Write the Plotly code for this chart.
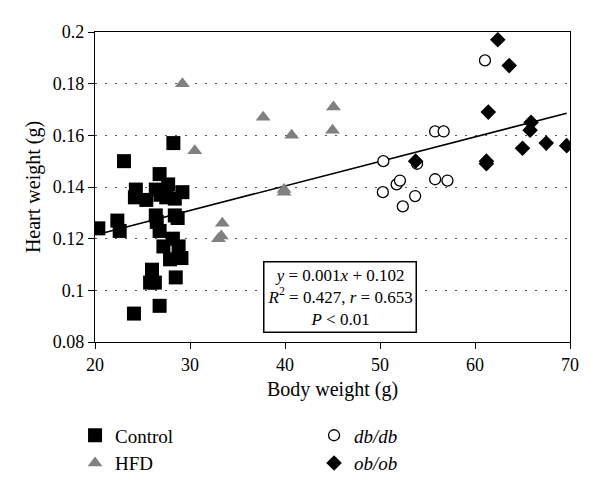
import numpy as np
import plotly.graph_objects as go

# ---- data ----
control_x = [28.25, 23.05, 26.8, 27.7, 24.3, 29.2, 26.4, 24.2, 25.4, 27.5, 28.4, 26.9,
             20.35, 22.35, 22.6, 26.4, 28.4, 26.5, 26.8, 28.7, 27.2, 28.2, 28.8, 27.9,
             29.1, 26.0, 25.8, 26.3, 28.5, 26.8, 24.1]
control_y = [0.157, 0.150, 0.145, 0.141, 0.139, 0.138, 0.139, 0.136, 0.135, 0.136, 0.1355, 0.137,
             0.124, 0.127, 0.123, 0.129, 0.129, 0.1265, 0.123, 0.128, 0.117, 0.120, 0.117, 0.112,
             0.1125, 0.108, 0.103, 0.103, 0.105, 0.094, 0.091]

hfd_x = [29.2, 30.5, 33.0, 33.3, 33.4, 37.7, 39.9, 39.9, 40.7, 45.1, 45.0]
hfd_y = [0.180, 0.154, 0.120, 0.121, 0.126, 0.167, 0.139, 0.138, 0.160, 0.171, 0.162]

dbdb_x = [61.05, 55.8, 56.7, 50.35, 53.9, 55.8, 57.1, 51.75, 52.1, 50.3, 53.7, 52.4]
dbdb_y = [0.189, 0.1615, 0.1615, 0.150, 0.149, 0.143, 0.1425, 0.141, 0.1425, 0.138, 0.1365, 0.1325]

obob_x = [62.4, 63.6, 61.4, 65.9, 65.8, 65.0, 67.5, 69.65, 61.2, 61.2, 53.75]
obob_y = [0.197, 0.187, 0.169, 0.165, 0.162, 0.155, 0.157, 0.156, 0.150, 0.149, 0.150]

x_ticks = [20, 30, 40, 50, 60, 70]
y_ticks = [0.08, 0.1, 0.12, 0.14, 0.16, 0.18, 0.2]
y_tick_text = ["0.08", "0.1", "0.12", "0.14", "0.16", "0.18", "0.2"]

# regression over all points
all_x = np.array(control_x + hfd_x + dbdb_x + obob_x)
all_y = np.array(control_y + hfd_y + dbdb_y + obob_y)
slope, intercept = np.polyfit(all_x, all_y, 1)
fit_x = np.array([all_x.min(), all_x.max()])
fit_y = slope * fit_x + intercept

FONT = "Liberation Serif"

fig = go.Figure()
fig.add_trace(go.Scatter(x=fit_x, y=fit_y, mode="lines", line=dict(color="black", width=1.6),
                         showlegend=False, hoverinfo="skip"))
fig.add_trace(go.Scatter(x=control_x, y=control_y, mode="markers", name="Control",
                         marker=dict(symbol="square", size=14, color="black")))
fig.add_trace(go.Scatter(x=dbdb_x, y=dbdb_y, mode="markers", name="<i>db/db</i>",
                         marker=dict(symbol="circle", size=11, color="white",
                                     line=dict(color="black", width=1.3))))
fig.add_trace(go.Scatter(x=hfd_x, y=hfd_y, mode="markers", name="HFD",
                         marker=dict(symbol="triangle-up", size=13, color="#808080")))
fig.add_trace(go.Scatter(x=obob_x, y=obob_y, mode="markers", name="<i>ob/ob</i>",
                         marker=dict(symbol="diamond", size=12, color="black")))

fig.add_annotation(
    x=45.8, y=0.0973, xref="x", yref="y",
    text="<i>y</i> = 0.001<i>x</i> + 0.102<br><i>R</i><sup>2</sup> = 0.427, <i>r</i> = 0.653<br><i>P</i> &lt; 0.01",
    showarrow=False, font=dict(family=FONT, size=17, color="black"),
    bordercolor="black", borderwidth=1.5, bgcolor="white", borderpad=3, align="center")

fig.update_layout(
    width=600, height=490,
    margin=dict(l=87, r=38, t=24, b=156, autoexpand=False),
    paper_bgcolor="white", plot_bgcolor="white",
    font=dict(family=FONT, size=18, color="black"),
    legend=dict(orientation="h", x=-0.042, xanchor="left", y=-0.24, yanchor="top",
                entrywidth=194, entrywidthmode="pixels", tracegroupgap=0,
                font=dict(family=FONT, size=19), traceorder="normal",
                itemsizing="trace"),
    xaxis=dict(range=[20, 70], tickvals=x_ticks, showgrid=False, zeroline=False,
               showline=True, linecolor="black", linewidth=1.3, mirror=True,
               ticks="outside", ticklen=6, tickcolor="black",
               title=dict(text="Body weight (g)", font=dict(family=FONT, size=20), standoff=8),
               tickfont=dict(family=FONT, size=18)),
    yaxis=dict(range=[0.08, 0.2], tickvals=y_ticks, ticktext=y_tick_text,
               showgrid=True, gridcolor="#555555", gridwidth=1, griddash="2px,8px",
               zeroline=False, showline=True, linecolor="black", linewidth=1.3, mirror=True,
               ticks="outside", ticklen=6, tickcolor="black",
               title=dict(text="Heart weight (g)", font=dict(family=FONT, size=20), standoff=6),
               tickfont=dict(family=FONT, size=18)),
)

fig.write_html("out.html")
